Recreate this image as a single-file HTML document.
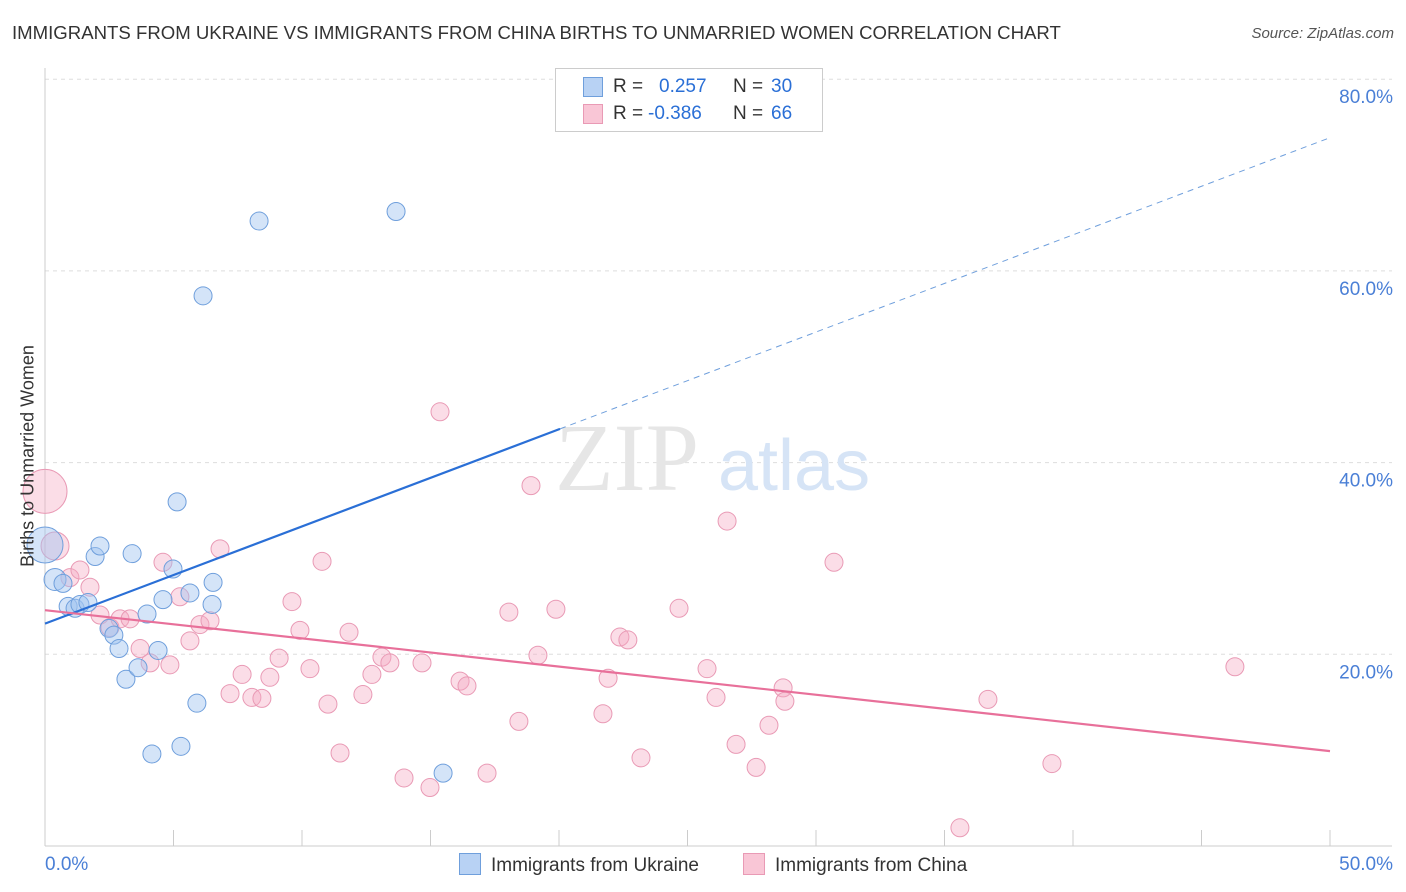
<!DOCTYPE html>
<html><head><meta charset="utf-8">
<style>
body{margin:0;background:#fff;font-family:"Liberation Sans",sans-serif;}
#c{position:relative;width:1406px;height:892px;overflow:hidden;}
.t{position:absolute;white-space:nowrap;}
</style></head>
<body>
<div id="c">
<div class="t" style="left:12px;top:22px;font-size:18.6px;color:#333;">IMMIGRANTS FROM UKRAINE VS IMMIGRANTS FROM CHINA BIRTHS TO UNMARRIED WOMEN CORRELATION CHART</div>
<div class="t" style="right:12px;top:25px;font-size:15px;color:#555;font-style:italic;">Source: ZipAtlas.com</div>
<svg id="s" width="1406" height="892" style="position:absolute;left:0;top:0"></svg>
</div>
<script>
const ukrX=[0,0.39,0.7,0.9,1.17,1.36,1.67,1.95,2.14,2.49,2.68,2.88,3.15,3.39,3.62,3.97,4.16,4.4,4.59,4.98,5.14,5.29,5.64,5.91,6.15,6.5,6.54,8.33,13.66,15.49];
const ukrY=[31.4,27.8,27.4,25.0,24.8,25.2,25.4,30.2,31.3,22.7,22.0,20.6,17.4,30.5,18.6,24.2,9.6,20.4,25.7,28.9,35.9,10.4,26.4,14.9,57.4,25.2,27.5,65.2,66.2,7.6];
const ukrR=[18,11,9,9,9,9,9,9,9,9,9,9,9,9,9,9,9,9,9,9,9,9,9,9,9,9,9,9,9,9];
const chnX=[0,0.39,0.97,1.36,1.75,2.14,2.53,2.92,3.31,3.7,4.09,4.59,4.86,5.25,5.64,6.03,6.42,6.81,7.2,7.67,8.05,8.44,8.75,9.11,9.61,9.92,10.31,10.78,11.01,11.48,11.83,12.37,12.72,13.11,13.42,13.97,14.67,14.98,15.37,16.15,16.42,17.2,18.05,18.44,18.91,19.18,19.88,21.71,21.91,22.37,22.68,23.19,24.67,25.76,26.11,26.54,26.89,27.67,28.17,28.72,28.79,30.7,35.6,36.69,39.18,46.3];
const chnY=[37.0,31.3,28.0,28.8,27.0,24.1,22.8,23.7,23.7,20.6,19.1,29.6,18.9,26.0,21.4,23.1,23.5,31.0,15.9,17.9,15.5,15.4,17.6,19.6,25.5,22.5,18.5,29.7,14.8,9.7,22.3,15.8,17.9,19.7,19.1,7.1,19.1,6.1,45.3,17.2,16.7,7.6,24.4,13.0,37.6,19.9,24.7,13.8,17.5,21.8,21.5,9.2,24.8,18.5,15.5,33.9,10.6,8.2,12.6,16.5,15.1,29.6,1.9,15.3,8.6,18.7];
const chnR=[22,14];
const ukrLine=[23.2,1.014]; // intercept, slope
const chnLine=[24.6,-0.294];
const yTicks=[20,40,60,80];
const xTickLabels=["0.0%","50.0%"];
const X=v=>45+v*25.7, Y=v=>846-v*9.585;
const s=document.getElementById('s');const NS='http://www.w3.org/2000/svg';
function mk(t,a){const e=document.createElementNS(NS,t);for(const k in a)e.setAttribute(k,a[k]);s.appendChild(e);return e;}
yTicks.forEach(v=>{const g=mk('line',{x1:45,x2:1392,y1:Y(v),y2:Y(v),stroke:'#ddd','stroke-dasharray':'4,4'});

const t=mk('text',{x:1393,y:Y(v)+24,'text-anchor':'end','font-size':19,fill:'#4a7fd6'});t.textContent=v.toFixed(1)+'%';
});
const ax=mk('line',{x1:45,x2:45,y1:68,y2:846,stroke:'#ccc'});
const bx=mk('line',{x1:45,x2:1392,y1:846,y2:846,stroke:'#ccc'});
for(let i=1;i<=10;i++){const k=mk('line',{x1:X(i*5),x2:X(i*5),y1:830,y2:846,stroke:'#ccc'});}
[[0,'start'],[50,'end']].forEach((p,i)=>{const t=mk('text',{x:i?1393:45,y:870,'text-anchor':p[1],'font-size':19,fill:'#4a7fd6'});t.textContent=xTickLabels[i];});
const wm=mk('text',{x:555,y:490,'font-size':96,fill:'#e6e6e6','font-family':'Liberation Serif'});wm.textContent='ZIP';
const wm2=mk('text',{x:718,y:490,'font-size':72,fill:'#d6e4f6'});wm2.textContent='atlas';
chnX.forEach((x,i)=>{const c=mk('circle',{cx:X(x),cy:Y(chnY[i]),r:chnR[i]||9,fill:'rgba(244,170,196,0.4)',stroke:'#e99ab5','stroke-width':1});});
ukrX.forEach((x,i)=>{const c=mk('circle',{cx:X(x),cy:Y(ukrY[i]),r:ukrR[i],fill:'rgba(160,196,240,0.45)',stroke:'#6f9fdc','stroke-width':1});});
const xs=20.04;
let l=mk('line',{x1:X(0),y1:Y(ukrLine[0]),x2:X(xs),y2:Y(ukrLine[0]+ukrLine[1]*xs),stroke:'#2a6fd6','stroke-width':2.2});
l=mk('line',{x1:X(xs),y1:Y(ukrLine[0]+ukrLine[1]*xs),x2:X(50),y2:Y(ukrLine[0]+ukrLine[1]*50),stroke:'#6f9fdc','stroke-width':1,'stroke-dasharray':'6,5'});
l=mk('line',{x1:X(0),y1:Y(chnLine[0]),x2:X(50),y2:Y(chnLine[0]+chnLine[1]*50),stroke:'#e8709a','stroke-width':2.2});
</script>
<div class="t" style="left:28px;top:456px;transform:translate(-50%,-50%) rotate(-90deg);font-size:18px;color:#333;">Births to Unmarried Women</div>
<div style="position:absolute;left:555px;top:68px;width:266px;height:62px;border:1px solid #ccc;background:#fff;font-size:19px;color:#333;">
<div style="position:absolute;left:27px;top:8px;width:18px;height:18px;background:#b8d2f4;border:1px solid #6f9fdc;"></div>
<div class="t" style="left:57px;top:7px;">R =</div><div class="t" style="left:103px;top:7px;color:#2a6fd6">0.257</div>
<div class="t" style="left:177px;top:7px;">N =</div><div class="t" style="left:215px;top:7px;color:#2a6fd6">30</div>
<div style="position:absolute;left:27px;top:35px;width:18px;height:18px;background:#f9c6d6;border:1px solid #e99ab5;"></div>
<div class="t" style="left:57px;top:34px;">R =</div><div class="t" style="left:92px;top:34px;color:#2a6fd6">-0.386</div>
<div class="t" style="left:177px;top:34px;">N =</div><div class="t" style="left:215px;top:34px;color:#2a6fd6">66</div>
</div>
<div style="position:absolute;left:459px;top:853px;font-size:19px;color:#333;">
<span style="display:inline-block;width:20px;height:20px;background:#b8d2f4;border:1px solid #6f9fdc;vertical-align:-4px;margin-right:10px;"></span>Immigrants from Ukraine</div>
<div style="position:absolute;left:743px;top:853px;font-size:19px;color:#333;">
<span style="display:inline-block;width:20px;height:20px;background:#f9c6d6;border:1px solid #e99ab5;vertical-align:-4px;margin-right:10px;"></span>Immigrants from China</div>
</body></html>
